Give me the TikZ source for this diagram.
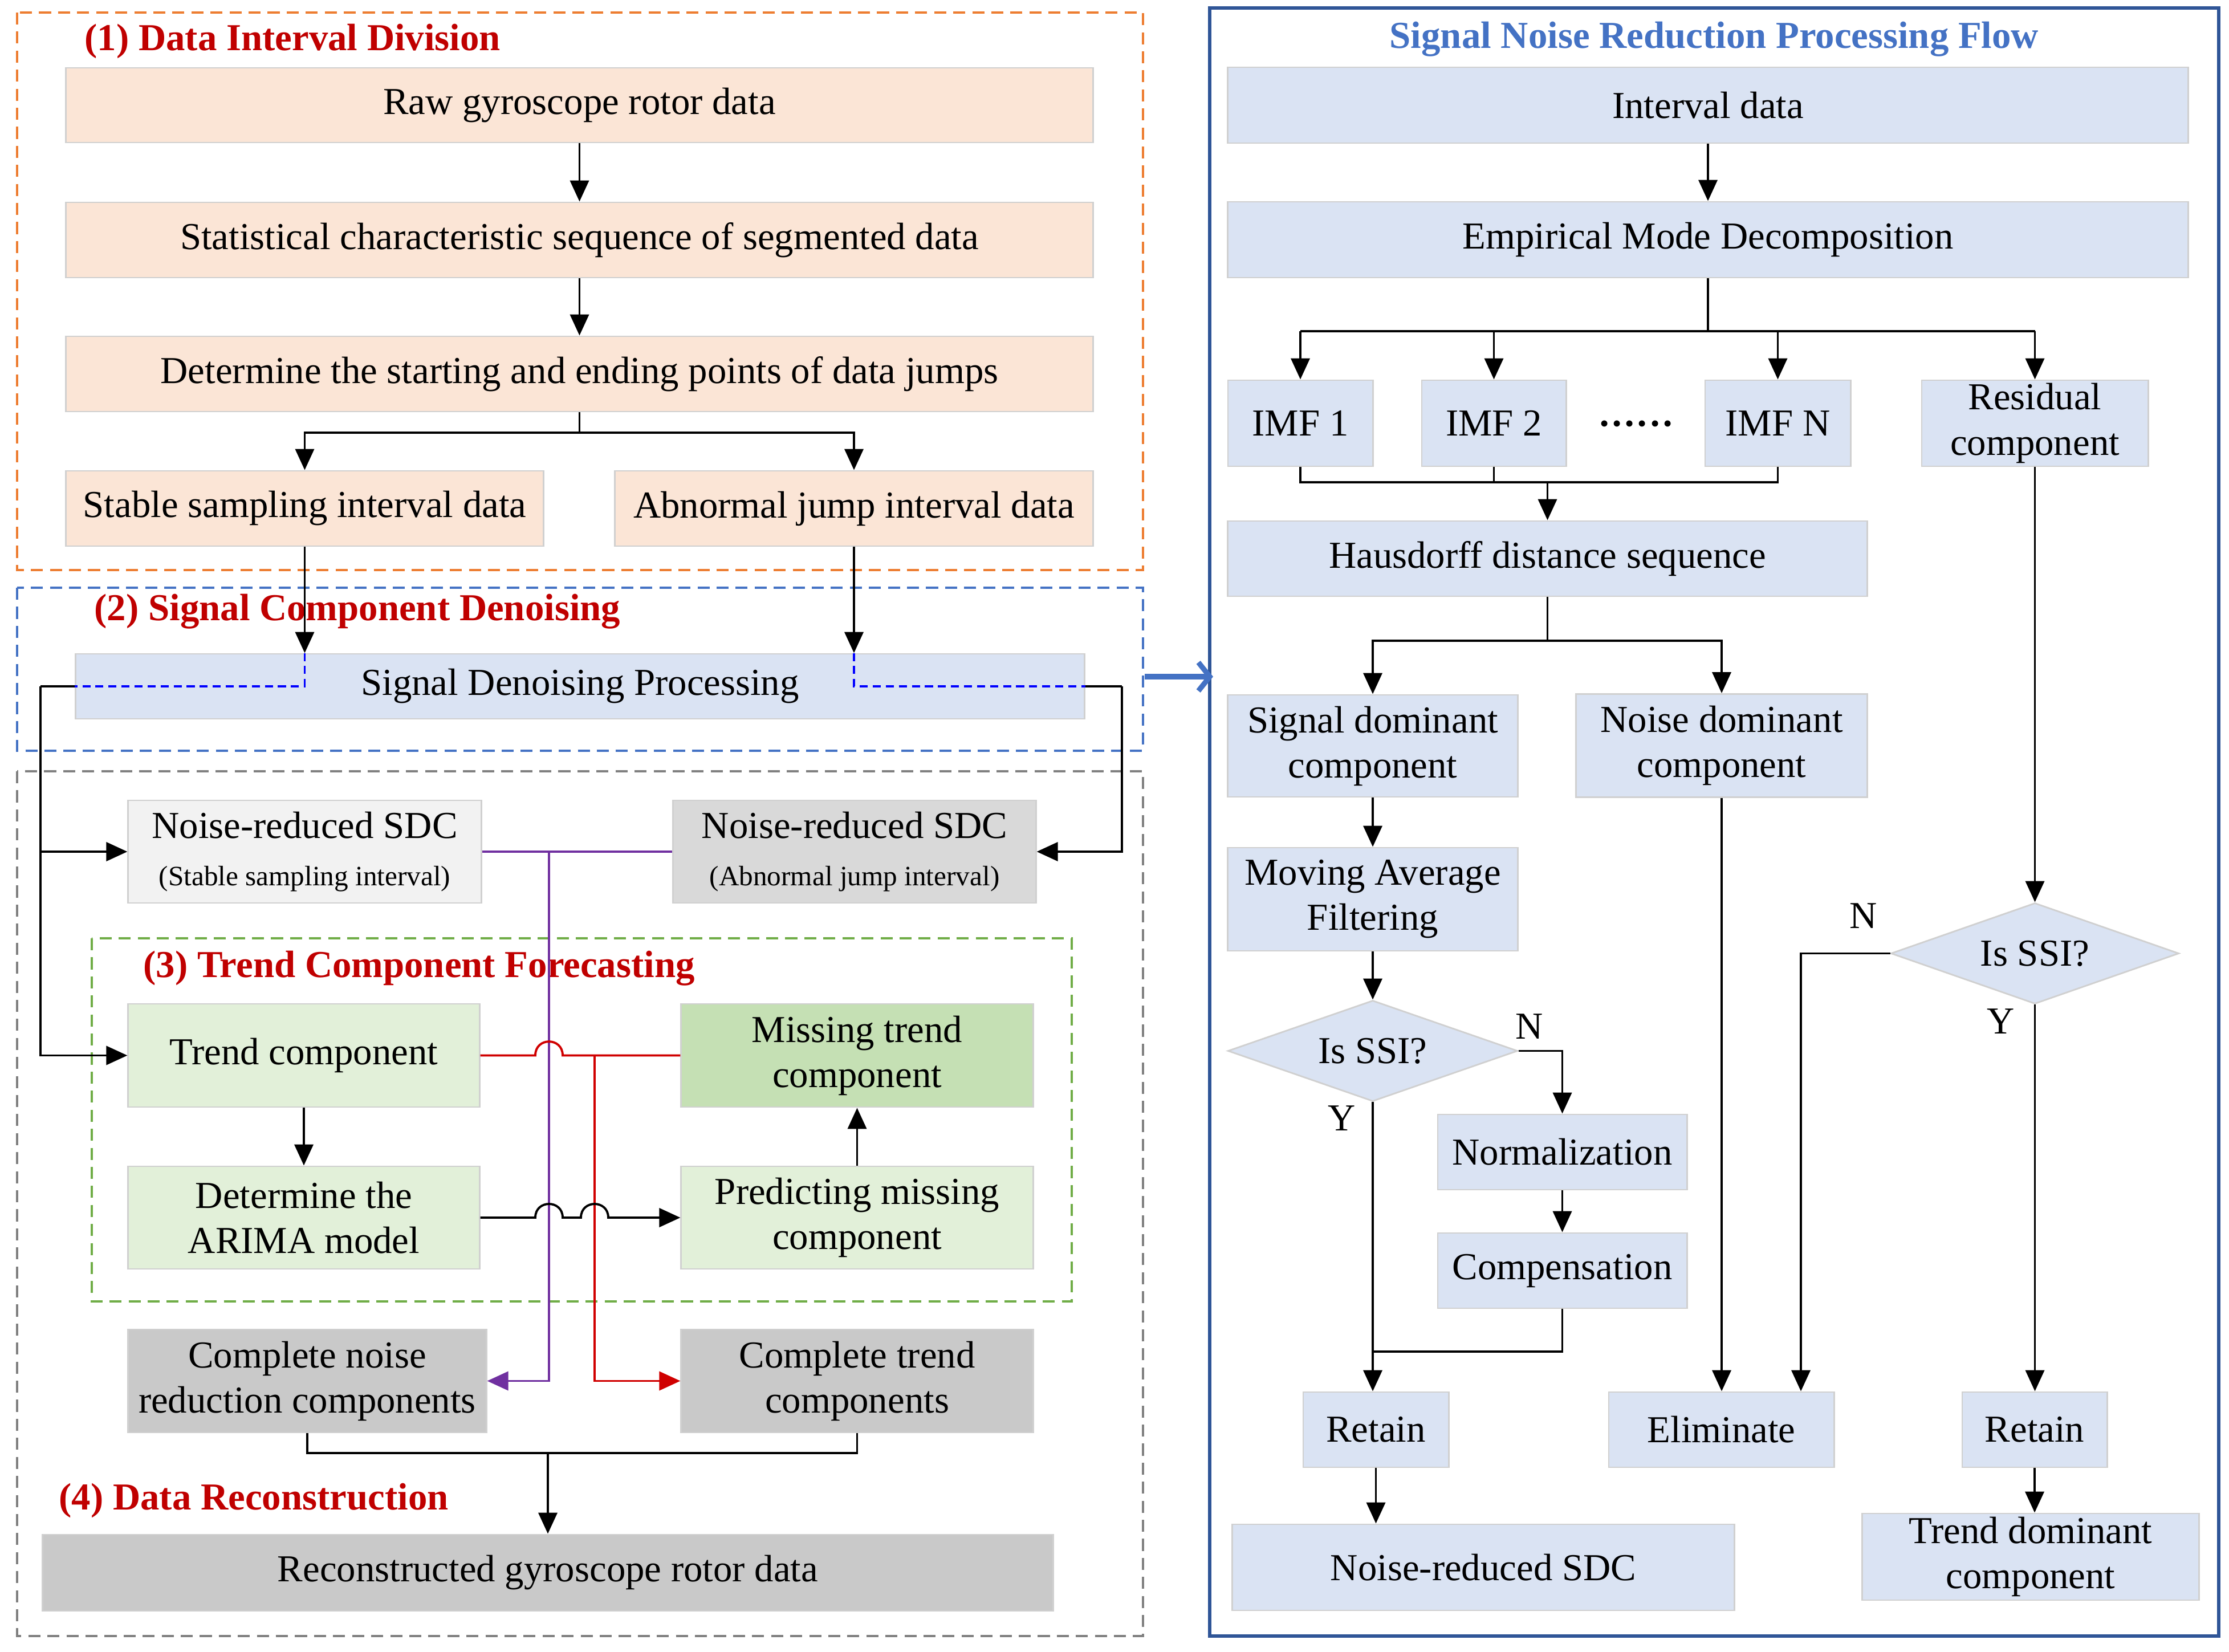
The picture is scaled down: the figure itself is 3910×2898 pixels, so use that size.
\documentclass[tikz,border=0pt]{standalone}
\usepackage{fontspec}
\setmainfont{Liberation Serif}
\usetikzlibrary{arrows.meta,shapes.geometric}
\definecolor{peach}{HTML}{FBE5D6}
\definecolor{bord}{HTML}{D0D0D0}
\definecolor{lblue}{HTML}{DAE3F3}
\definecolor{lgreen}{HTML}{E2F0D9}
\definecolor{mgreen}{HTML}{C5E0B4}
\definecolor{grayA}{HTML}{F2F2F2}
\definecolor{grayB}{HTML}{D9D9D9}
\definecolor{grayC}{HTML}{C9C9C9}
\definecolor{dorange}{HTML}{ED7D31}
\definecolor{dblue}{HTML}{4472C4}
\definecolor{dgray}{HTML}{808080}
\definecolor{dgreen}{HTML}{70AD47}
\definecolor{fblue}{HTML}{2F5597}
\definecolor{tred}{HTML}{C00000}
\definecolor{lred}{HTML}{D00000}
\definecolor{lpurple}{HTML}{7030A0}
\begin{document}
\begin{tikzpicture}[x=0.01cm,y=-0.01cm,
  font=\fontsize{19}{22.5}\selectfont,
  box/.style={draw=bord,line width=0.8pt,inner sep=0pt,align=center,anchor=center},
  ttl/.style={anchor=west,font=\fontsize{19}{22.5}\selectfont\bfseries,text=tred,inner sep=0pt},
  frame/.style={line width=1.3pt,dash pattern=on 6pt off 3.5pt},
  conn/.style={line width=1.1pt,black},
  arr/.style={conn,-{Triangle[length=0.37cm,width=0.33cm]}},
  dia/.style={diamond,fill=lblue,draw=bord,line width=0.8pt,inner sep=0pt,aspect=2.87,align=center},
  lbl/.style={inner sep=0pt}]
\useasboundingbox (0,0) rectangle (3910,2898);
\fill[white] (0,0) rectangle (3910,2898);

% ---------------- dashed frames (left) ----------------
\draw[frame,dorange] (30,22) rectangle (2005,1000);
\draw[frame,dblue] (30,1031) rectangle (2005,1317);
\draw[frame,dgray] (30,1353) rectangle (2005,2870);
\draw[frame,dgreen] (161,1646) rectangle (1880,2283);

\node[ttl] (t1) at (148,72) {(1) Data Interval Division};
\node[ttl] (t2) at (165,1073) {(2) Signal Component Denoising};
\node[ttl] (t3) at (251,1699) {(3) Trend Component Forecasting};
\node[ttl] (t4) at (103,2632) {(4) Data Reconstruction};

% ---------------- left boxes ----------------
\node[box,fill=peach,minimum width=18.01cm,minimum height=1.31cm] (raw) at (1016.5,184.5) {Raw gyroscope rotor data};
\node[box,fill=peach,minimum width=18.01cm,minimum height=1.32cm] (stat) at (1016.5,421) {Statistical characteristic sequence of segmented data};
\node[box,fill=peach,minimum width=18.01cm,minimum height=1.32cm] (det) at (1016.5,656) {Determine the starting and ending points of data jumps};
\node[box,fill=peach,minimum width=8.37cm,minimum height=1.32cm] (stable) at (534.5,892) {Stable sampling interval data};
\node[box,fill=peach,minimum width=8.38cm,minimum height=1.32cm] (abn) at (1498,892) {Abnormal jump interval data};
\node[box,fill=lblue,minimum width=17.69cm,minimum height=1.14cm] (sdp) at (1017.5,1204) {Signal Denoising Processing};
\node[box,fill=grayA,minimum width=6.19cm,minimum height=1.80cm] (nrs) at (534.5,1494) {Noise-reduced SDC\\[1pt]{\fontsize{14}{17}\selectfont(Stable sampling interval)}};
\node[box,fill=grayB,minimum width=6.36cm,minimum height=1.80cm] (nra) at (1499,1494) {Noise-reduced SDC\\[1pt]{\fontsize{14}{17}\selectfont(Abnormal jump interval)}};
\node[box,fill=lgreen,minimum width=6.16cm,minimum height=1.81cm] (trend) at (533,1851.5) {Trend component};
\node[box,fill=mgreen,minimum width=6.17cm,minimum height=1.81cm] (miss) at (1503.5,1851.5) {Missing trend\\component};
\node[box,fill=lgreen,minimum width=6.16cm,minimum height=1.80cm] (arima) at (533,2136) {Determine the\\ARIMA model};
\node[box,fill=lgreen,minimum width=6.17cm,minimum height=1.80cm] (pred) at (1503.5,2136) {Predicting missing\\component};
\node[box,fill=grayC,minimum width=6.28cm,minimum height=1.81cm] (cnoise) at (539,2422.5) {Complete noise\\reduction components};
\node[box,fill=grayC,minimum width=6.17cm,minimum height=1.81cm] (ctrend) at (1503.5,2422.5) {Complete trend\\components};
\node[box,fill=grayC,minimum width=17.72cm,minimum height=1.34cm] (recon) at (961,2759) {Reconstructed gyroscope rotor data};

% ---------------- left connectors ----------------
\draw[arr] (raw) -- (stat);
\draw[arr] (stat) -- (det);
\coordinate (s1) at (1016.5,759);
\draw[conn] (det.south) -- (s1);
\draw[arr] (s1) -| (stable.north);
\draw[arr] (s1) -| (abn.north);
\draw[arr] (stable.south) -- (stable.south |- sdp.north);
\draw[arr] (abn.south) -- (abn.south |- sdp.north);
\draw[blue,line width=1pt,dash pattern=on 4pt off 2.5pt] (stable.south |- sdp.north) -- (stable.south |- sdp.center) -- (sdp.west);
\draw[blue,line width=1pt,dash pattern=on 4pt off 2.5pt] (abn.south |- sdp.north) -- (abn.south |- sdp.center) -- (sdp.east);
\coordinate (lw) at (71,1204);
\coordinate (rw) at (1968,1204);
\draw[conn] (sdp.west) -- (lw);
\draw[arr] (lw) |- (nrs.west);
\draw[arr] (lw) |- (trend.west);
\draw[conn] (sdp.east) -- (rw);
\draw[arr] (rw) |- (nra.east);
% purple
\coordinate (pv) at (963,1494);
\draw[lpurple,line width=1.1pt] (nrs.east) -- (nra.west);
\draw[lpurple,line width=1.1pt,-{Triangle[length=0.37cm,width=0.33cm]}] (pv) |- (cnoise.east);
% red
\coordinate (rv) at (1043,1851.5);
\draw[lred,line width=1.1pt] (trend.east) -- (939,1851.5) .. controls (939,1819) and (987,1819) .. (987,1851.5) -- (miss.west);
\draw[lred,line width=1.1pt,-{Triangle[length=0.37cm,width=0.33cm]}] (rv) |- (ctrend.west);
% black with two jumps
\draw[arr] (arima.east) -- (939,2136) .. controls (939,2104) and (987,2104) .. (987,2136) -- (1019,2136) .. controls (1019,2104) and (1067,2104) .. (1067,2136) -- (pred.west);
\draw[arr] (trend) -- (arima);
\draw[arr] (pred) -- (miss);
\coordinate (mg) at (961,2549);
\draw[conn] (cnoise.south) |- (mg) -| (ctrend.south);
\draw[arr] (mg) -- (recon.north);

% ---------------- right frame ----------------
\draw[fblue,line width=1.5pt] (2122,14) rectangle (3892,2870);
\node[lbl,font=\fontsize{19}{22.5}\selectfont\bfseries,text=dblue] (rt) at (3007,69) {Signal Noise Reduction Processing Flow};
\coordinate (ba) at (2008,1187);
\coordinate (bb) at (2128,1187);
\draw[dblue,line width=2.6pt,-{Straight Barb[length=0.2cm,width=0.5cm,line width=2.6pt]}] (ba) -- (bb);

% ---------------- right boxes ----------------
\node[box,fill=lblue,minimum width=16.84cm,minimum height=1.33cm] (intv) at (2996,184.5) {Interval data};
\node[box,fill=lblue,minimum width=16.84cm,minimum height=1.33cm] (emd) at (2996,420.5) {Empirical Mode Decomposition};
\node[box,fill=lblue,minimum width=2.54cm,minimum height=1.51cm] (imf1) at (2281,742.5) {IMF 1};
\node[box,fill=lblue,minimum width=2.53cm,minimum height=1.51cm] (imf2) at (2620.5,742.5) {IMF 2};
\node[lbl,font=\fontsize{19}{22.5}\selectfont\bfseries] (dots) at (2870,752) {······};
\node[box,fill=lblue,minimum width=2.55cm,minimum height=1.51cm] (imfn) at (3118.5,742.5) {IMF N};
\node[box,fill=lblue,minimum width=3.97cm,minimum height=1.51cm] (resid) at (3569.5,742.5) {Residual\\component};
\node[box,fill=lblue,minimum width=11.21cm,minimum height=1.32cm] (haus) at (2714.5,980) {Hausdorff distance sequence};
\node[box,fill=lblue,minimum width=5.08cm,minimum height=1.79cm] (sig) at (2408,1308.5) {Signal dominant\\component};
\node[box,fill=lblue,minimum width=5.10cm,minimum height=1.81cm] (noi) at (3020,1308) {Noise dominant\\component};
\node[box,fill=lblue,minimum width=5.08cm,minimum height=1.81cm] (mov) at (2408,1577.5) {Moving Average\\Filtering};
\node[dia,minimum width=5.08cm,minimum height=1.77cm] (dia1) at (2408,1843.5) {Is SSI?};
\node[box,fill=lblue,minimum width=4.37cm,minimum height=1.32cm] (norm) at (2740.5,2021) {Normalization};
\node[box,fill=lblue,minimum width=4.37cm,minimum height=1.32cm] (comp) at (2740.5,2229) {Compensation};
\node[box,fill=lblue,minimum width=2.55cm,minimum height=1.32cm] (ret1) at (2413.5,2508) {Retain};
\node[box,fill=lblue,minimum width=8.80cm,minimum height=1.51cm] (nrsdc) at (2602,2749.5) {Noise-reduced SDC};
\node[box,fill=lblue,minimum width=3.95cm,minimum height=1.32cm] (elim) at (3019.5,2508) {Eliminate};
\node[dia,minimum width=5.05cm,minimum height=1.77cm] (dia2) at (3569.5,1672.5) {Is SSI?};
\node[box,fill=lblue,minimum width=2.54cm,minimum height=1.32cm] (ret2) at (3569,2508) {Retain};
\node[box,fill=lblue,minimum width=5.90cm,minimum height=1.52cm] (trendd) at (3562,2731) {Trend dominant\\component};

\node[lbl] (n1) at (2683,1801) {N};
\node[lbl] (y1) at (2354,1962) {Y};
\node[lbl] (n2) at (3269,1607) {N};
\node[lbl] (y2) at (3510,1792) {Y};

% ---------------- right connectors ----------------
\draw[arr] (intv) -- (emd);
\coordinate (e1) at (2996,581);
\draw[conn] (emd.south) -- (e1);
\draw[conn] (imf1.north |- e1) -- (resid.north |- e1);
\draw[arr] (imf1.north |- e1) -- (imf1.north);
\draw[arr] (imf2.north |- e1) -- (imf2.north);
\draw[arr] (imfn.north |- e1) -- (imfn.north);
\draw[arr] (resid.north |- e1) -- (resid.north);
\coordinate (e2) at (2714.5,846);
\draw[conn] (imf1.south) |- (e2);
\draw[conn] (imf2.south) -- (imf2.south |- e2);
\draw[conn] (imfn.south) |- (e2);
\draw[arr] (e2) -- (haus.north);
\coordinate (e3) at (2714.5,1124);
\draw[conn] (haus.south) -- (e3);
\draw[arr] (e3) -| (sig.north);
\draw[arr] (e3) -| (noi.north);
\draw[arr] (sig) -- (mov);
\draw[arr] (mov) -- (dia1);
\draw[arr] (dia1.east) -| (norm.north);
\draw[arr] (norm) -- (comp);
\coordinate (e4) at (2408,2371);
\draw[conn] (comp.south) |- (e4);
\draw[arr] (dia1.south) -- (dia1.south |- ret1.north);
\draw[arr] (ret1.south) -- (ret1.south |- nrsdc.north);
\draw[arr] (noi.south) -- (noi.south |- elim.north);
\draw[arr] (resid.south) -- (dia2.north);
\coordinate (e5) at (3159,1672.5);
\draw[arr] (dia2.west) -- (e5) -- (e5 |- elim.north);
\draw[arr] (dia2.south) -- (dia2.south |- ret2.north);
\draw[arr] (ret2.south) -- (ret2.south |- trendd.north);
\end{tikzpicture}
\end{document}
